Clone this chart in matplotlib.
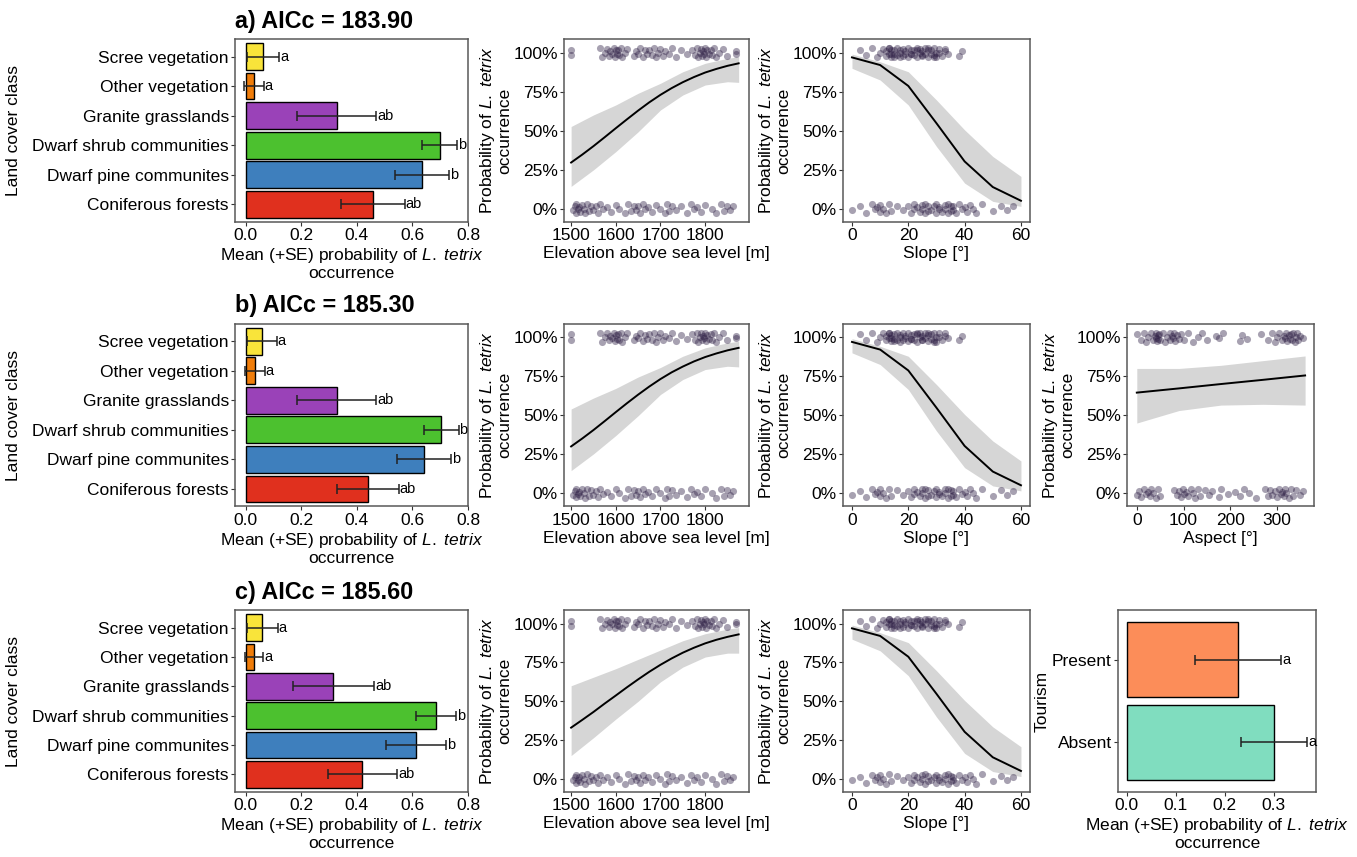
import numpy as np
import matplotlib.pyplot as plt

plt.rcParams['font.family'] = ['Liberation Sans', 'DejaVu Sans']
plt.rcParams['mathtext.fontset'] = 'custom'
plt.rcParams['mathtext.rm'] = 'Liberation Sans'
plt.rcParams['mathtext.it'] = 'Liberation Sans:italic'

# land cover classes (bottom to top)
classes = ['Coniferous forests', 'Dwarf pine communites', 'Dwarf shrub communities',
           'Granite grasslands', 'Other vegetation', 'Scree vegetation']
class_colors = ['#E0301E', '#3E7FBD', '#4CC12F', '#9A42B8', '#F07D0A', '#F9E43A']
class_letters = ['ab', 'b', 'b', 'ab', 'a', 'a']

mean_a = [0.458, 0.634, 0.699, 0.327, 0.030, 0.063]
se_a = [0.115, 0.098, 0.063, 0.143, 0.035, 0.058]
mean_b = [0.440, 0.642, 0.703, 0.327, 0.034, 0.058]
se_b = [0.110, 0.098, 0.063, 0.143, 0.035, 0.054]
mean_c = [0.420, 0.612, 0.686, 0.316, 0.030, 0.060]
se_c = [0.125, 0.108, 0.072, 0.146, 0.033, 0.055]

# tourism
tourism = ['Absent', 'Present']
tourism_colors = ['#80DDBF', '#FC8D59']
tourism_mean = [0.300, 0.227]
tourism_se = [0.067, 0.088]
tourism_letters = ['a', 'a']

# observations (presence = 1, absence = 0)
elev_pres = [1500, 1500, 1565, 1570, 1575, 1580, 1585, 1588, 1592, 1595, 1598, 1600, 1602,
             1605, 1608, 1612, 1615, 1620, 1625, 1640, 1645, 1650, 1655, 1660, 1665, 1670,
             1675, 1680, 1685, 1690, 1695, 1700, 1705, 1710, 1718, 1725, 1735, 1745, 1760,
             1770, 1778, 1782, 1785, 1788, 1790, 1792, 1795, 1797, 1800, 1802, 1805, 1808,
             1812, 1815, 1820, 1825, 1830, 1840, 1850, 1870, 1870]
elev_abs = [1505, 1508, 1510, 1512, 1515, 1518, 1520, 1525, 1528, 1532, 1535, 1540, 1545,
            1550, 1555, 1560, 1565, 1572, 1580, 1590, 1600, 1608, 1620, 1628, 1635, 1640,
            1645, 1650, 1655, 1660, 1665, 1672, 1680, 1690, 1700, 1710, 1715, 1720, 1725,
            1735, 1745, 1760, 1768, 1775, 1782, 1790, 1800, 1815, 1825, 1835, 1842, 1848,
            1855, 1862]
slope_pres = [3, 5, 7, 9, 10, 11, 12, 12, 13, 13, 14, 14, 15, 15, 16, 16, 17, 17, 18, 18, 19,
              19, 20, 20, 21, 21, 22, 22, 23, 23, 24, 24, 25, 25, 26, 26, 27, 27, 28, 28, 29,
              29, 30, 30, 31, 32, 33, 34, 13, 15, 17, 21, 23, 25, 27, 29, 31, 33, 38, 39, 14]
slope_abs = [0, 3, 5, 7, 8, 9, 10, 10, 11, 12, 13, 14, 16, 18, 20, 21, 22, 22, 23, 24, 25, 25,
             26, 26, 27, 27, 28, 29, 30, 30, 31, 31, 32, 33, 33, 34, 34, 35, 35, 36, 36, 37,
             38, 39, 40, 41, 42, 43, 44, 46, 50, 53, 55, 57]
aspect_pres = [0, 10, 15, 20, 25, 30, 35, 38, 40, 42, 44, 45, 46, 48, 50, 55, 60, 65, 70, 72,
               75, 78, 80, 82, 85, 90, 95, 100, 110, 120, 130, 140, 150, 170, 175, 185, 220,
               225, 235, 265, 280, 290, 295, 300, 305, 310, 315, 318, 320, 322, 325, 328, 330,
               332, 335, 338, 340, 342, 345, 350, 355]
aspect_abs = [0, 5, 10, 15, 20, 25, 28, 30, 35, 40, 45, 50, 80, 85, 90, 95, 98, 100, 105, 110,
              115, 120, 125, 130, 135, 145, 155, 160, 175, 180, 195, 210, 220, 230, 240, 255,
              275, 280, 285, 290, 295, 300, 305, 308, 310, 315, 318, 320, 325, 330, 335, 340,
              350, 355]
jitter = [0.02, -0.015, 0.03, -0.03, 0.0, 0.025, -0.02, 0.01, -0.005, 0.028, -0.025, 0.015, -0.01]

# predicted curves
elev_x = [1500, 1525, 1550, 1575, 1600, 1625, 1650, 1675, 1700, 1725, 1750, 1775, 1800,
          1825, 1850, 1875]
elev_fit_a = [0.296, 0.347, 0.401, 0.458, 0.516, 0.573, 0.629, 0.682, 0.730, 0.773, 0.811,
              0.844, 0.873, 0.896, 0.916, 0.932]
elev_fit_b = [0.300, 0.351, 0.405, 0.462, 0.520, 0.577, 0.632, 0.684, 0.732, 0.775, 0.812,
              0.845, 0.873, 0.896, 0.916, 0.932]
elev_fit_c = [0.330, 0.380, 0.431, 0.485, 0.537, 0.590, 0.641, 0.690, 0.735, 0.776, 0.813,
              0.845, 0.873, 0.896, 0.915, 0.931]
elev_band_x = [1500, 1550, 1600, 1650, 1700, 1750, 1800, 1850, 1875]
elev_lo_a = [0.143, 0.249, 0.366, 0.493, 0.633, 0.729, 0.793, 0.814, 0.810]
elev_hi_a = [0.527, 0.601, 0.665, 0.740, 0.804, 0.878, 0.932, 0.964, 0.974]
elev_lo_b = [0.145, 0.252, 0.370, 0.497, 0.633, 0.729, 0.793, 0.814, 0.810]
elev_hi_b = [0.540, 0.610, 0.672, 0.745, 0.806, 0.878, 0.932, 0.964, 0.974]
elev_lo_c = [0.150, 0.265, 0.385, 0.500, 0.625, 0.720, 0.785, 0.810, 0.810]
elev_hi_c = [0.600, 0.655, 0.710, 0.770, 0.830, 0.890, 0.935, 0.965, 0.975]

slope_x = [0, 10, 20, 30, 40, 50, 60]
slope_fit = [0.970, 0.921, 0.787, 0.548, 0.303, 0.139, 0.051]
slope_lo = [0.900, 0.825, 0.665, 0.399, 0.164, 0.047, 0.015]
slope_hi = [0.991, 0.942, 0.878, 0.697, 0.505, 0.335, 0.207]

aspect_x = [0, 90, 180, 270, 360]
aspect_fit = [0.645, 0.672, 0.700, 0.727, 0.755]
aspect_lo = [0.450, 0.530, 0.565, 0.570, 0.565]
aspect_hi = [0.800, 0.800, 0.820, 0.850, 0.880]

FS = 12.5
SPINE = '#595959'
prob_label = 'Probability of $\\it{L.\\ tetrix}$\noccurrence'
mean_label = 'Mean (+SE) probability of $\\it{L.\\ tetrix}$\noccurrence'


def style(ax):
    for s in ax.spines.values():
        s.set_color(SPINE)
        s.set_linewidth(1.1)
    ax.tick_params(labelsize=FS, colors='#333333', labelcolor='black', length=3,
                   width=0.8, pad=1.5)


def bar_panel(ax, labels, means, ses, colors, letters, xlim, xticks, ylabel):
    y = np.arange(len(labels))
    ax.barh(y, means, height=0.9, color=colors, edgecolor='black', linewidth=1.0, zorder=2)
    ax.errorbar(means, y, xerr=ses, fmt='none', ecolor='#222222', elinewidth=1.1,
                capsize=3.6, capthick=1.1, zorder=3)
    for yi, m, s, t in zip(y, means, ses, letters):
        ax.text(m + s + 0.003, yi, t, va='center', ha='left', fontsize=10.5)
    ax.set_yticks(y)
    ax.set_yticklabels(labels)
    ax.set_ylim(-0.6, len(labels) - 0.4)
    ax.set_xlim(*xlim)
    ax.set_xticks(xticks)
    ax.set_xticklabels(['%.1f' % v for v in xticks])
    ax.set_xlabel(mean_label, fontsize=FS, labelpad=2, linespacing=1.1)
    ax.set_ylabel(ylabel, fontsize=FS, labelpad=8)
    style(ax)


def effect_panel(ax, pres, absn, cx, cy, bx, lo, hi, xlim, xticks, xlabel):
    ax.fill_between(bx, lo, hi, color='#D6D6D6', lw=0, zorder=1)
    ax.plot(cx, cy, color='black', lw=1.4, zorder=3)
    jp = np.resize(jitter, len(pres))
    ja = np.resize(jitter[::-1], len(absn))
    ax.scatter(pres, 1 + jp, s=26, color='#2E1F45', alpha=0.42, lw=0, zorder=2)
    ax.scatter(absn, 0 + ja, s=26, color='#2E1F45', alpha=0.42, lw=0, zorder=2)
    ax.set_xlim(*xlim)
    ax.set_xticks(xticks)
    ax.set_ylim(-0.085, 1.088)
    ax.set_yticks([0, 0.25, 0.5, 0.75, 1.0])
    ax.set_yticklabels(['0%', '25%', '50%', '75%', '100%'])
    ax.set_xlabel(xlabel, fontsize=FS, labelpad=2)
    ax.set_ylabel(prob_label, fontsize=FS, labelpad=1, linespacing=1.0)
    style(ax)


fig = plt.figure(figsize=(13.57, 8.57), dpi=100)

rows = [(0.741, 0.2135), (0.409, 0.2135), (0.0758, 0.2124)]
titles = ['a) AICc = 183.90', 'b) AICc = 185.30', 'c) AICc = 185.60']
means = [mean_a, mean_b, mean_c]
ses = [se_a, se_b, se_c]
elev_fits = [elev_fit_a, elev_fit_b, elev_fit_c]
elev_los = [elev_lo_a, elev_lo_b, elev_lo_c]
elev_his = [elev_hi_a, elev_hi_b, elev_hi_c]

for i, (b, h) in enumerate(rows):
    ax1 = fig.add_axes([0.1732, b, 0.1717, h])
    bar_panel(ax1, classes, means[i], ses[i], class_colors, class_letters,
              (-0.038, 0.8), [0, 0.2, 0.4, 0.6, 0.8], 'Land cover class')
    ax1.set_title(titles[i], loc='left', fontsize=16.8, fontweight='bold', pad=8)

    ax2 = fig.add_axes([0.4156, b, 0.1363, h])
    effect_panel(ax2, elev_pres, elev_abs, elev_x, elev_fits[i], elev_band_x,
                 elev_los[i], elev_his[i], (1484, 1898), [1500, 1600, 1700, 1800],
                 'Elevation above sea level [m]')

    ax3 = fig.add_axes([0.6212, b, 0.1378, h])
    effect_panel(ax3, slope_pres, slope_abs, slope_x, slope_fit, slope_x,
                 slope_lo, slope_hi, (-3.2, 63.2), [0, 20, 40, 60], 'Slope [°]')

# aspect (row b)
ax4 = fig.add_axes([0.8305, rows[1][0], 0.1378, rows[1][1]])
effect_panel(ax4, aspect_pres, aspect_abs, aspect_x, aspect_fit, aspect_x,
             aspect_lo, aspect_hi, (-21, 379), [0, 100, 200, 300], 'Aspect [°]')

# tourism (row c)
ax5 = fig.add_axes([0.8239, rows[2][0], 0.1459, rows[2][1]])
bar_panel(ax5, tourism, tourism_mean, tourism_se, tourism_colors, tourism_letters,
          (-0.018, 0.386), [0, 0.1, 0.2, 0.3], 'Tourism')
ax5.yaxis.labelpad = 2

fig.savefig('out.png', dpi=100)
